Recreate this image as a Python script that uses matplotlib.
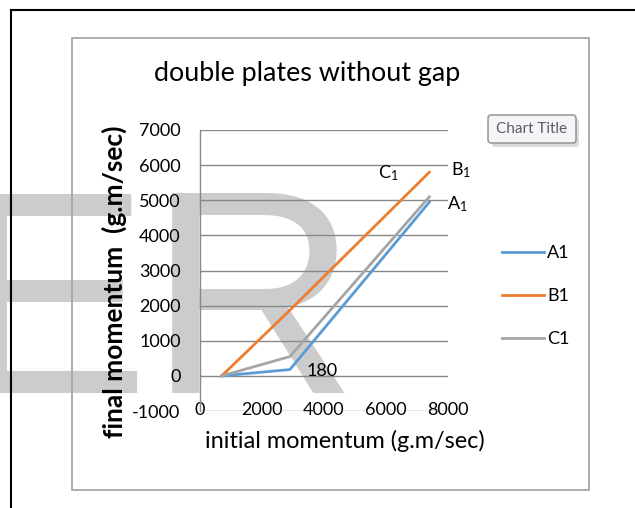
import matplotlib
matplotlib.use("Agg")
import matplotlib.pyplot as plt
from matplotlib.lines import Line2D
from matplotlib.patches import FancyBboxPatch, Rectangle

# data
init_momentum = [700, 2900, 7400]
A1 = [0, 180, 4950]
B1 = [0, 1870, 5800]
C1 = [0, 550, 5100]
series_names = ["A1", "B1", "C1"]
colors = ["#5B9BD5", "#ED7D31", "#A5A5A5"]
xticks = [0, 2000, 4000, 6000, 8000]
yticks = list(range(-1000, 7001, 1000))

W, H = 635, 508
plt.rcParams["font.family"] = ["Lato", "DejaVu Sans"]
plt.rcParams["mathtext.fontset"] = "custom"
plt.rcParams["mathtext.rm"] = "Lato"
plt.rcParams["mathtext.it"] = "Lato:italic"
plt.rcParams["axes.unicode_minus"] = False

def fx(px):
    return px / W

def fy(py):
    return 1 - py / H

fig = plt.figure(figsize=(W / 100, H / 100), dpi=100)
fig.patch.set_facecolor("white")

# big gray watermark letters behind everything
fig.text(fx(-45), fy(393), "ER", family="Liberation Sans", fontsize=209,
         color="#cccccc", ha="left", va="baseline", zorder=-5)

# outer black frame (left + top edges only are in view)
fig.add_artist(Line2D([fx(11), fx(11)], [fy(10), 0], color="black", lw=1.5, zorder=1))
fig.add_artist(Line2D([fx(11), 1], [fy(10), fy(10)], color="black", lw=1.5, zorder=1))
# chart area border
fig.add_artist(Rectangle((fx(72), fy(490)), fx(589) - fx(72), fy(38) - fy(490),
                         transform=fig.transFigure, fill=False, edgecolor="#a6a6a6",
                         lw=1.3, zorder=1))

ax = fig.add_axes([fx(200), fy(411), fx(448) - fx(200), fy(130) - fy(411)])
ax.set_facecolor("none")
ax.set_xlim(0, 8000)
ax.set_ylim(-1000, 7000)
for s in ["top", "right", "bottom"]:
    ax.spines[s].set_visible(False)
ax.spines["left"].set_color("#888888")
ax.spines["left"].set_linewidth(1.0)
ax.set_yticks(yticks)
ax.set_xticks(xticks)
ax.yaxis.grid(True, color="#888888", lw=1.0)
ax.set_axisbelow(True)
ax.tick_params(axis="y", length=0, pad=14, labelsize=13, labelcolor="black")
ax.tick_params(axis="x", length=0, pad=-6.5, labelsize=13, labelcolor="black")

lines = []
for name, vals, c in zip(series_names, [A1, B1, C1], colors):
    ln, = ax.plot(init_momentum, vals, color=c, lw=2, label=name, clip_on=False)
    lines.append(ln)

# data label on the blue kink
ax.annotate(str(A1[1]), (init_momentum[1], A1[1]), xytext=(17, -1),
            textcoords="offset pixels", va="center", ha="left", fontsize=13)
# series end labels
ax.annotate(r"A$_1$", (init_momentum[-1], A1[-1]), xytext=(18, -2),
            textcoords="offset pixels", va="center", ha="left", fontsize=13,
            annotation_clip=False)
ax.annotate(r"B$_1$", (init_momentum[-1], B1[-1]), xytext=(22, 2),
            textcoords="offset pixels", va="center", ha="left", fontsize=13,
            annotation_clip=False)
ax.annotate(r"C$_1$", (init_momentum[-1], C1[-1]), xytext=(-51, 24),
            textcoords="offset pixels", va="center", ha="left", fontsize=13,
            annotation_clip=False)

fig.legend(handles=lines, loc="upper left", bbox_to_anchor=(fx(502), fy(245)),
           frameon=False, fontsize=13, handlelength=2.3, handletextpad=0.2,
           labelspacing=1.5, borderpad=0, borderaxespad=0)

fig.text(fx(307), fy(81), "double plates without gap", fontsize=19.4,
         ha="center", va="baseline")
fig.text(fx(345), fy(448), "initial momentum (g.m/sec)", fontsize=16.9,
         ha="center", va="baseline")
fig.text(fx(123), fy(282), "final momentum  (g.m/sec)", fontsize=19,
         fontweight="bold", rotation=90, rotation_mode="anchor",
         ha="center", va="baseline")

# "Chart Title" button
px = fig.dpi_scale_trans
fig.add_artist(FancyBboxPatch((492 / 100, (H - 147) / 100), 87 / 100, 28 / 100,
                              boxstyle="round,pad=0,rounding_size=0.03",
                              transform=px, facecolor="#c4c4c4", edgecolor="none",
                              alpha=0.6, zorder=2))
fig.add_artist(FancyBboxPatch((488 / 100, (H - 143) / 100), 88 / 100, 28 / 100,
                              boxstyle="round,pad=0,rounding_size=0.03",
                              transform=px, facecolor="#f5f5f8", edgecolor="#8c8c8c",
                              lw=1.0, zorder=3))
fig.text(fx(532), fy(129), "Chart Title", fontsize=11, color="#5a5a6a",
         ha="center", va="center", zorder=4)

fig.savefig("out.png", dpi=100)
